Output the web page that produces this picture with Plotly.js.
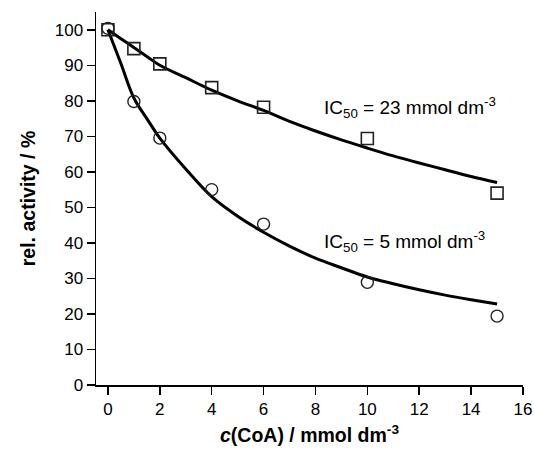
<!DOCTYPE html>
<html>
<head>
<meta charset="utf-8">
<script src="https://cdn.plot.ly/plotly-3.0.1.min.js"></script>
<style>html,body{margin:0;padding:0;background:#fff;}#chart{width:534px;height:450px;}</style>
</head>
<body>
<div id="chart"></div>
<script>
// measured data points
var concX = [0, 1, 2, 4, 6, 10, 15];
var squareY = [100, 94.7, 90.4, 83.7, 78.2, 69.4, 54];
var circleY = [100.4, 79.8, 69.5, 55, 45.3, 28.9, 19.4];

// fitted curves
var fitX = [0, 0.5, 1, 1.5, 2, 3, 4, 5, 6, 7, 8, 9, 10, 11, 12, 13, 14, 15];
var fitUpper = [100, 97.5, 95, 92.5, 90, 86.5, 83, 80, 77.3, 74.2, 71.5, 69, 66.7, 64.5, 62.5, 60.6, 58.7, 57];
var fitLower = [100, 90.5, 80.8, 75, 69.5, 60.8, 53, 47.5, 43, 39.1, 35.7, 33, 30.4, 28.5, 26.8, 25.3, 24, 22.8];

var xTicks = [0, 2, 4, 6, 8, 10, 12, 14, 16];
var yTicks = [0, 10, 20, 30, 40, 50, 60, 70, 80, 90, 100];
var labelUpper = 'IC<sub>50</sub> = 23 mmol dm<sup>-3</sup>';
var labelLower = 'IC<sub>50</sub> = 5 mmol dm<sup>-3</sup>';

var FONT = 'Liberation Sans, Arial, Helvetica, sans-serif';

var traces = [
  {x: fitX, y: fitUpper, mode: 'lines', line: {color: '#000', width: 3, shape: 'spline'}, hoverinfo: 'skip'},
  {x: fitX, y: fitLower, mode: 'lines', line: {color: '#000', width: 3, shape: 'spline'}, hoverinfo: 'skip'},
  {x: concX, y: squareY, mode: 'markers', marker: {symbol: 'square-open', size: 12, color: '#222', line: {width: 1.6, color: '#222'}}},
  {x: concX, y: circleY, mode: 'markers', marker: {symbol: 'circle-open', size: 12, color: '#222', line: {width: 1.4, color: '#222'}}}
];

var layout = {
  width: 534, height: 450,
  margin: {l: 96, r: 11, t: 12, b: 65},
  paper_bgcolor: '#fff', plot_bgcolor: '#fff',
  showlegend: false,
  font: {family: FONT, color: '#000', size: 17},
  xaxis: {
    range: [-0.46, 16], tickvals: xTicks, ticktext: xTicks.map(String),
    showline: true, linecolor: '#000', linewidth: 1.5,
    ticks: 'outside', ticklen: 8, tickwidth: 1.5, tickcolor: '#000',
    showgrid: false, zeroline: false,
    tickfont: {family: FONT, size: 17, color: '#000'},
    title: {text: '<i>c</i>(CoA) / mmol dm<sup>-3</sup>', font: {family: FONT, size: 19.5, color: '#000', weight: 'bold'}, standoff: 10}
  },
  yaxis: {
    range: [0, 105], tickvals: yTicks, ticktext: yTicks.map(String),
    showline: true, linecolor: '#000', linewidth: 1.5,
    ticks: 'outside', ticklen: 8, tickwidth: 1.5, tickcolor: '#000',
    showgrid: false, zeroline: false,
    tickfont: {family: FONT, size: 17, color: '#000'},
    title: {text: 'rel. activity / %', font: {family: FONT, size: 19.5, color: '#000', weight: 'bold'}, standoff: 14}
  },
  annotations: [
    {x: 8.25, y: 78, xref: 'x', yref: 'y', text: labelUpper, showarrow: false, xanchor: 'left', yanchor: 'middle', font: {family: FONT, size: 19, color: '#000'}},
    {x: 8.25, y: 40.3, xref: 'x', yref: 'y', text: labelLower, showarrow: false, xanchor: 'left', yanchor: 'middle', font: {family: FONT, size: 19, color: '#000'}}
  ]
};

Plotly.newPlot('chart', traces, layout, {staticPlot: true, displayModeBar: false});
</script>
</body>
</html>
